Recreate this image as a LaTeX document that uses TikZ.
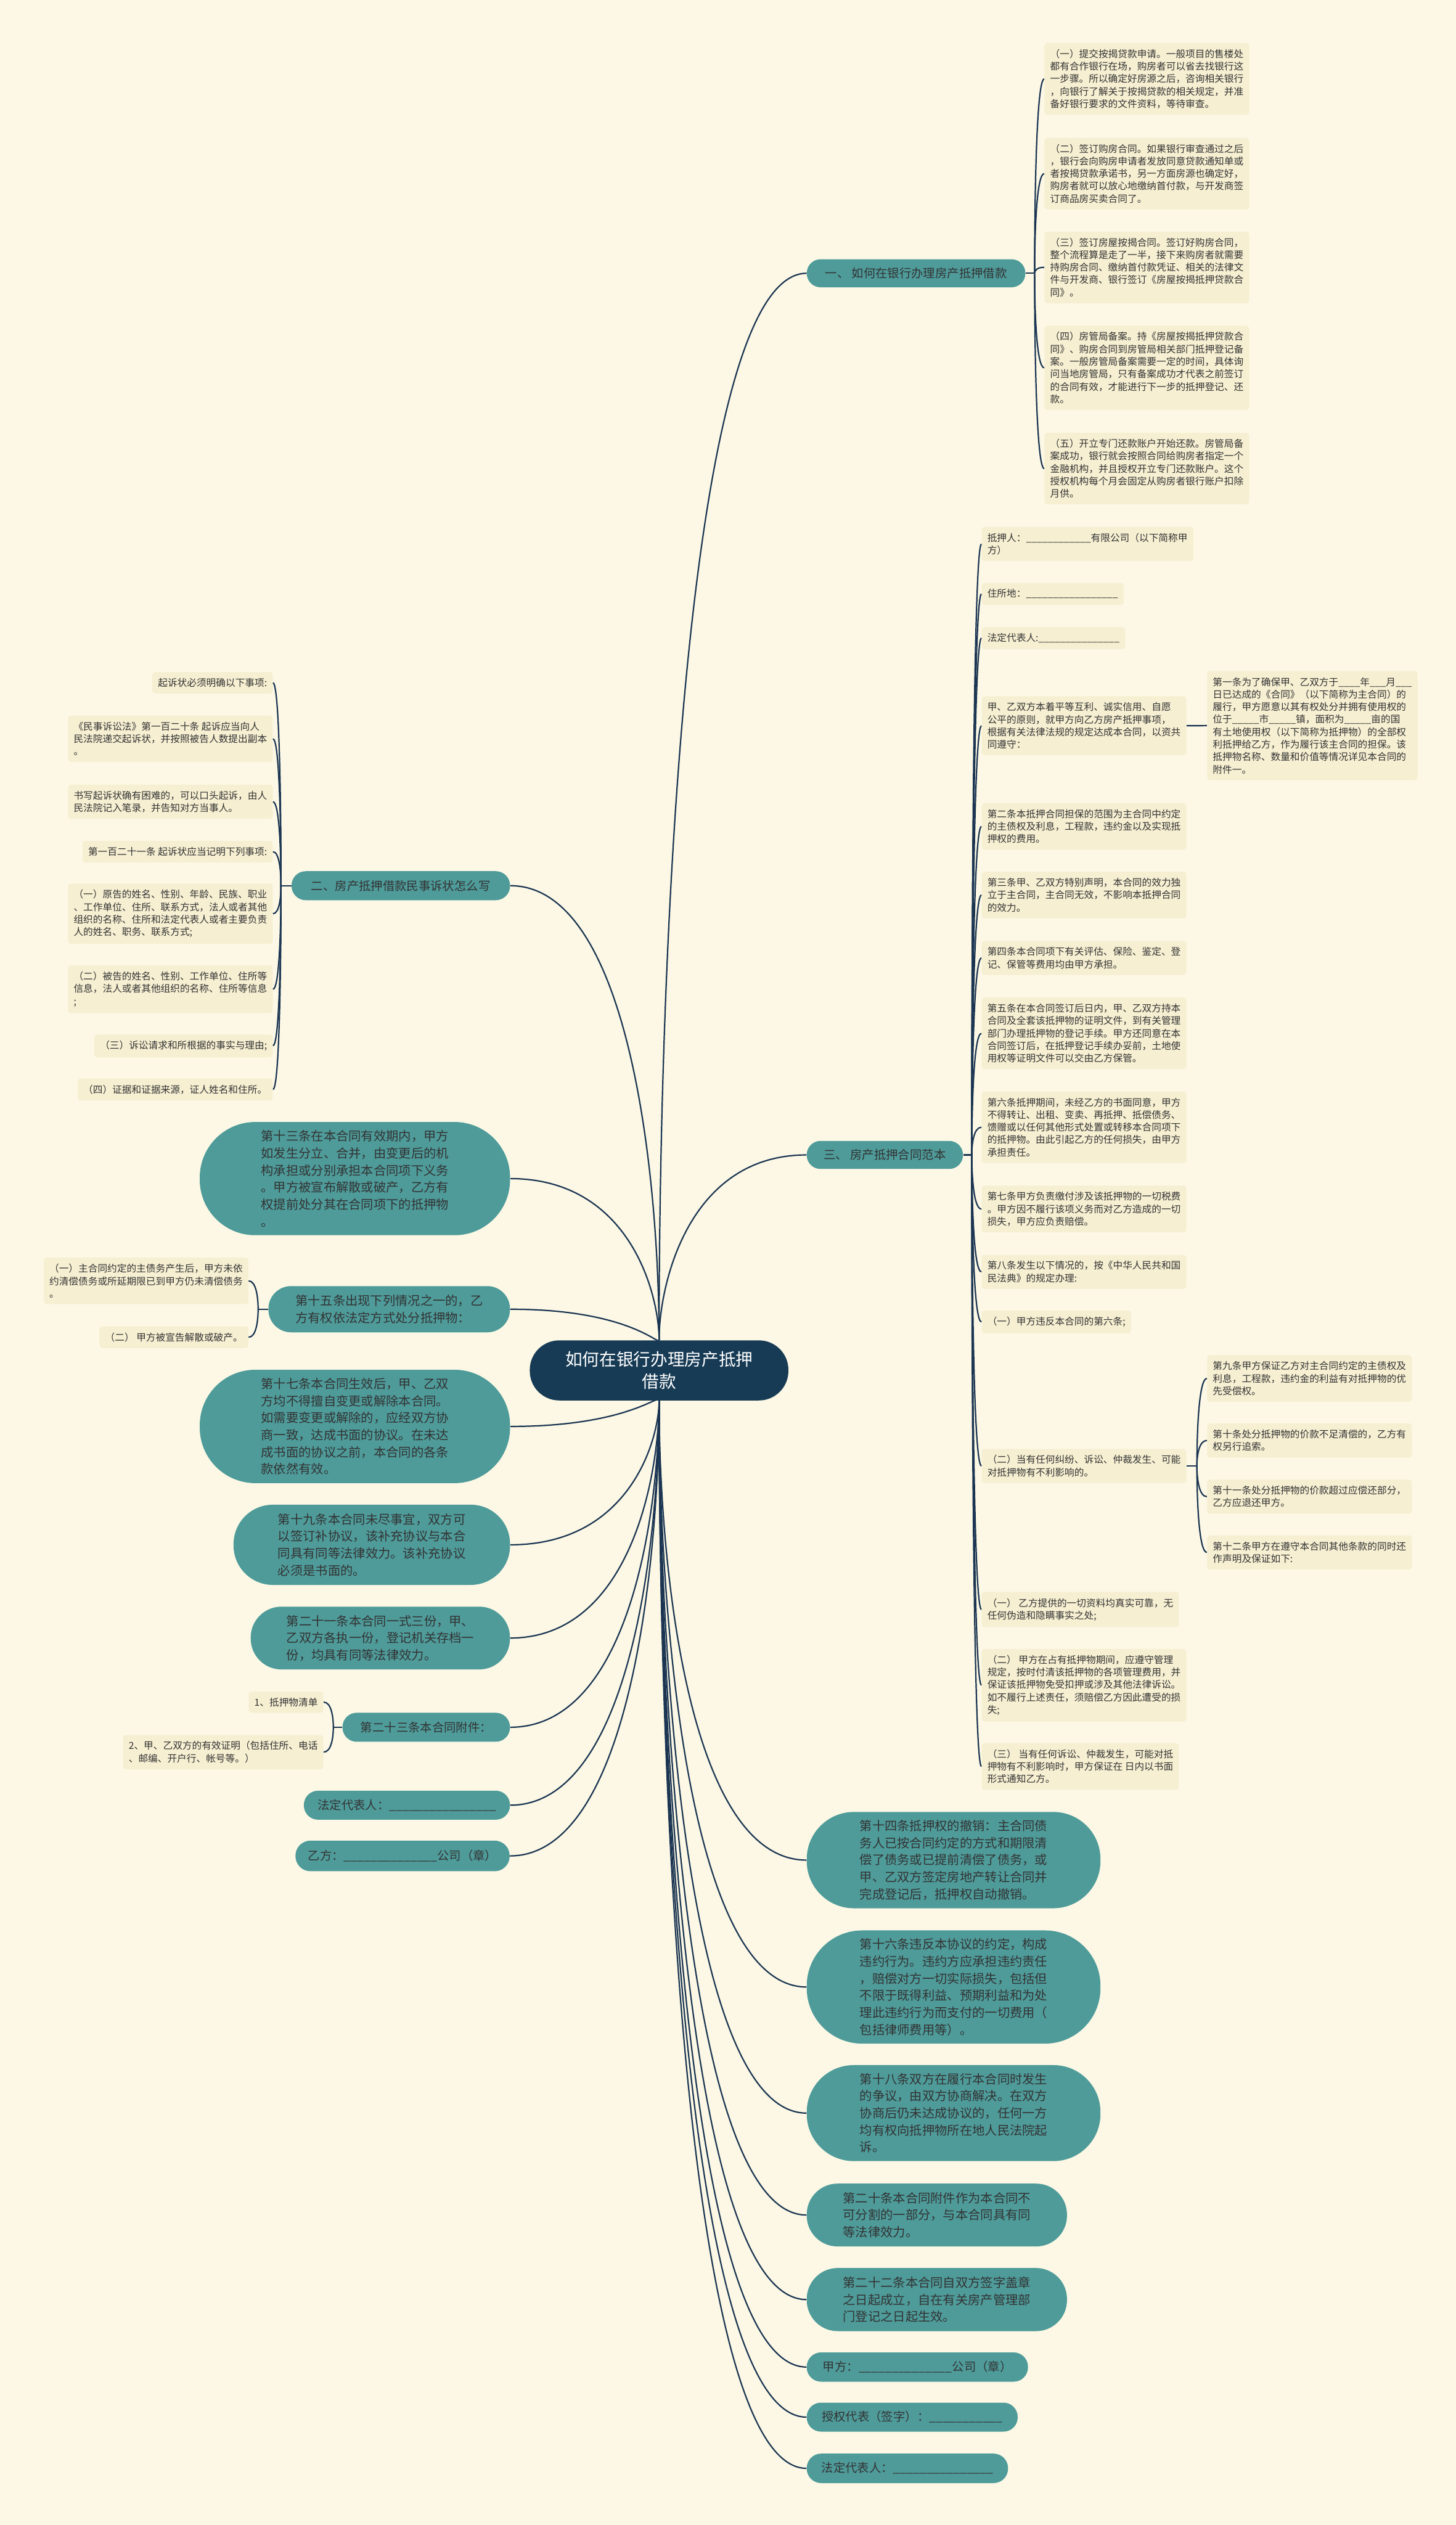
\documentclass[tikz,border=0pt]{standalone}
\usepackage{fontspec}
\setmainfont{Noto Sans CJK SC}
\usetikzlibrary{calc}
\definecolor{bgc}{HTML}{FCF8E5}
\definecolor{leafc}{HTML}{F6EFD2}
\definecolor{tealc}{HTML}{4E9B9A}
\definecolor{navyc}{HTML}{173B55}
\definecolor{wirec}{HTML}{1B3552}
\definecolor{inkc}{HTML}{333333}
\newdimen\pxu
\pxu=1.416pt
\pgfdeclarelayer{paper}
\pgfdeclarelayer{back}
\pgfsetlayers{paper,back,main}
\newcommand\conn[2]{\draw[wire] (#1) .. controls ($(#1)!0.4!(#1|-#2)$) and ($(#2)!0.8!(#1|-#2)$) .. (#2);}
\tikzset{
  wire/.style={draw=wirec, line width=1.2pt},
  leaf/.style={fill=leafc, rounded corners=2.5pt, inner xsep=5pt, inner ysep=5.5pt, align=left, text=inkc, font=\fontsize{8.5pt}{11pt}\selectfont},
  lw/.style={leaf, anchor=west},
  le/.style={leaf, anchor=east},
  pill/.style n args={2}{minimum width=#1*\pxu, minimum height=#2*\pxu, rounded corners=#2*0.49*\pxu, inner sep=0pt},
  bub/.style={fill=tealc, align=left, text=inkc, font=\fontsize{11pt}{15pt}\selectfont},
  brn/.style={fill=tealc, align=left, text=inkc, font=\fontsize{10.5pt}{13pt}\selectfont},
}
\begin{document}
\begin{tikzpicture}[x=1.416pt, y=-1.416pt]
\useasboundingbox (0,0) rectangle (904,1568);
\begin{pgfonlayer}{paper}
\fill[bgc] (0,0) rectangle (904,1568);
\end{pgfonlayer}

% centre
\node[pill={160.6}{37.3}, fill=navyc, text=white, align=center, font=\fontsize{15pt}{20pt}\selectfont] (C) at (409.3,851) {如何在银行办理房产抵押\\借款};

% branches
\node[brn, pill={135.7}{17.4}] (b1) at (568.9,169.7) {一、 如何在银行办理房产抵押借款};
\node[brn, pill={135.7}{18}] (b2) at (248.9,550) {二、房产抵押借款民事诉状怎么写};
\node[brn, pill={97}{17.4}] (b3) at (549.5,717.2) {三、 房产抵押合同范本};

% branch 1 leaves
\node[lw] (a1) at (648.5,49) {（一）提交按揭贷款申请。一般项目的售楼处\\都有合作银行在场，购房者可以省去找银行这\\一步骤。所以确定好房源之后，咨询相关银行\\，向银行了解关于按揭贷款的相关规定，并准\\备好银行要求的文件资料，等待审查。};
\node[lw] (a2) at (648.5,107.8) {（二）签订购房合同。如果银行审查通过之后\\，银行会向购房申请者发放同意贷款通知单或\\者按揭贷款承诺书，另一方面房源也确定好，\\购房者就可以放心地缴纳首付款，与开发商签\\订商品房买卖合同了。};
\node[lw] (a3) at (648.5,166) {（三）签订房屋按揭合同。签订好购房合同，\\整个流程算是走了一半，接下来购房者就需要\\持购房合同、缴纳首付款凭证、相关的法律文\\件与开发商、银行签订《房屋按揭抵押贷款合\\同》。};
\node[lw] (a4) at (648.5,228.4) {（四）房管局备案。持《房屋按揭抵押贷款合\\同》、购房合同到房管局相关部门抵押登记备\\案。一般房管局备案需要一定的时间，具体询\\问当地房管局，只有备案成功才代表之前签订\\的合同有效，才能进行下一步的抵押登记、还\\款。};
\node[lw] (a5) at (648.5,291) {（五）开立专门还款账户开始还款。房管局备\\案成功，银行就会按照合同给购房者指定一个\\金融机构，并且授权开立专门还款账户。这个\\授权机构每个月会固定从购房者银行账户扣除\\月供。};

% branch 3 leaves
\node[lw] (c1) at (609.5,337.8) {抵押人：\_\_\_\_\_\_\_\_\_\_\_\_有限公司（以下简称甲\\方）};
\node[lw] (c2) at (609.5,368.8) {住所地：\_\_\_\_\_\_\_\_\_\_\_\_\_\_\_\_\_};
\node[lw] (c3) at (609.5,396.2) {法定代表人:\_\_\_\_\_\_\_\_\_\_\_\_\_\_\_};
\node[lw] (c4) at (609.5,450.7) {甲、乙双方本着平等互利、诚实信用、自愿\\公平的原则，就甲方向乙方房产抵押事项，\\根据有关法律法规的规定达成本合同，以资共\\同遵守：};
\node[lw] (c5) at (609.5,513.2) {第二条本抵押合同担保的范围为主合同中约定\\的主债权及利息，工程款，违约金以及实现抵\\押权的费用。};
\node[lw] (c6) at (609.5,555.8) {第三条甲、乙双方特别声明，本合同的效力独\\立于主合同，主合同无效，不影响本抵押合同\\的效力。};
\node[lw] (c7) at (609.5,594.9) {第四条本合同项下有关评估、保险、鉴定、登\\记、保管等费用均由甲方承担。};
\node[lw] (c8) at (609.5,641.7) {第五条在本合同签订后日内，甲、乙双方持本\\合同及全套该抵押物的证明文件，到有关管理\\部门办理抵押物的登记手续。甲方还同意在本\\合同签订后，在抵押登记手续办妥前，土地使\\用权等证明文件可以交由乙方保管。};
\node[lw] (c9) at (609.5,700) {第六条抵押期间，未经乙方的书面同意，甲方\\不得转让、出租、变卖、再抵押、抵偿债务、\\馈赠或以任何其他形式处置或转移本合同项下\\的抵押物。由此引起乙方的任何损失，由甲方\\承担责任。};
\node[lw] (c10) at (609.5,750.8) {第七条甲方负责缴付涉及该抵押物的一切税费\\。甲方因不履行该项义务而对乙方造成的一切\\损失，甲方应负责赔偿。};
\node[lw] (c11) at (609.5,789.8) {第八条发生以下情况的，按《中华人民共和国\\民法典》的规定办理:};
\node[lw] (c12) at (609.5,820.9) {（一）甲方违反本合同的第六条;};
\node[lw] (c13) at (609.5,910.3) {（二）当有任何纠纷、诉讼、仲裁发生、可能\\对抵押物有不利影响的。};
\node[lw] (c14) at (609.5,999.5) {（一） 乙方提供的一切资料均真实可靠，无\\任何伪造和隐瞒事实之处;};
\node[lw] (c15) at (609.5,1046.5) {（二） 甲方在占有抵押物期间，应遵守管理\\规定，按时付清该抵押物的各项管理费用，并\\保证该抵押物免受扣押或涉及其他法律诉讼。\\如不履行上述责任，须赔偿乙方因此遭受的损\\失;};
\node[lw] (c16) at (609.5,1097) {（三） 当有任何诉讼、仲裁发生，可能对抵\\押物有不利影响时，甲方保证在 日内以书面\\形式通知乙方。};

\node[lw] (c4r) at (749.5,450.6) {第一条为了确保甲、乙双方于\_\_\_\_年\_\_\_月\_\_\_\\日已达成的《合同》（以下简称为主合同）的\\履行，甲方愿意以其有权处分并拥有使用权的\\位于\_\_\_\_\_市\_\_\_\_\_镇，面积为\_\_\_\_\_亩的国\\有土地使用权（以下简称为抵押物）的全部权\\利抵押给乙方，作为履行该主合同的担保。该\\抵押物名称、数量和价值等情况详见本合同的\\附件一。};

\node[lw] (d1) at (749.5,856) {第九条甲方保证乙方对主合同约定的主债权及\\利息，工程款，违约金的利益有对抵押物的优\\先受偿权。};
\node[lw] (d2) at (749.5,894.5) {第十条处分抵押物的价款不足清偿的，乙方有\\权另行追索。};
\node[lw] (d3) at (749.5,929.4) {第十一条处分抵押物的价款超过应偿还部分，\\乙方应退还甲方。};
\node[lw] (d4) at (749.5,964) {第十二条甲方在遵守本合同其他条款的同时还\\作声明及保证如下:};

% branch 2 leaves
\node[le] (e1) at (169.5,424) {起诉状必须明确以下事项:};
\node[le] (e2) at (169.5,458.8) {《民事诉讼法》第一百二十条 起诉应当向人\\民法院递交起诉状，并按照被告人数提出副本\\。};
\node[le] (e3) at (169.5,497.9) {书写起诉状确有困难的，可以口头起诉，由人\\民法院记入笔录，并告知对方当事人。};
\node[le] (e4) at (169.5,528.9) {第一百二十一条 起诉状应当记明下列事项:};
\node[le] (e5) at (169.5,567.4) {（一）原告的姓名、性别、年龄、民族、职业\\、工作单位、住所、联系方式，法人或者其他\\组织的名称、住所和法定代表人或者主要负责\\人的姓名、职务、联系方式;};
\node[le] (e6) at (169.5,614.3) {（二）被告的姓名、性别、工作单位、住所等\\信息，法人或者其他组织的名称、住所等信息\\;};
\node[le] (e7) at (169.5,649.4) {（三）诉讼请求和所根据的事实与理由;};
\node[le] (e8) at (169.5,676.5) {（四）证据和证据来源，证人姓名和住所。};

% left bubbles
\node[bub, pill={192.7}{70.3}] (f1) at (220.4,731.9) {第十三条在本合同有效期内，甲方\\如发生分立、合并，由变更后的机\\构承担或分别承担本合同项下义务\\。甲方被宣布解散或破产，乙方有\\权提前处分其在合同项下的抵押物\\。};
\node[bub, pill={150}{28.7}] (f2) at (241.7,813) {第十五条出现下列情况之一的，乙\\方有权依法定方式处分抵押物：};
\node[bub, pill={192.7}{70.4}] (f3) at (220.4,885.8) {第十七条本合同生效后，甲、乙双\\方均不得擅自变更或解除本合同。\\如需要变更或解除的，应经双方协\\商一致，达成书面的协议。在未达\\成书面的协议之前，本合同的各条\\款依然有效。};
\node[bub, pill={171.7}{49.8}] (f4) at (230.9,959.3) {第十九条本合同未尽事宜，双方可\\以签订补协议，该补充协议与本合\\同具有同等法律效力。该补充协议\\必须是书面的。};
\node[bub, pill={161}{39}] (f5) at (236.2,1017.2) {第二十一条本合同一式三份，甲、\\乙双方各执一份，登记机关存档一\\份，均具有同等法律效力。};
\node[brn, pill={104}{18}] (f6) at (264.7,1072.6) {第二十三条本合同附件：};
\node[brn, pill={128}{18}] (f7) at (252.7,1121) {法定代表人：\_\_\_\_\_\_\_\_\_\_\_\_\_\_\_\_};
\node[brn, pill={133}{19}] (f8) at (250,1152.5) {乙方：\_\_\_\_\_\_\_\_\_\_\_\_\_\_公司（章）};

\node[le] (g1) at (154.4,795.4) {（一）主合同约定的主债务产生后，甲方未依\\约清偿债务或所延期限已到甲方仍未清偿债务\\。};
\node[le] (g2) at (154.4,830.4) {（二） 甲方被宣告解散或破产。};
\node[le] (h1) at (201,1057) {1、抵押物清单};
\node[le] (h2) at (201,1088) {2、甲、乙双方的有效证明（包括住所、电话\\、邮编、开户行、帐号等。）};

% right bubbles
\node[bub, pill={182.4}{59.8}] (r1) at (592.2,1155.1) {第十四条抵押权的撤销：主合同债\\务人已按合同约定的方式和期限清\\偿了债务或已提前清偿了债务，或\\甲、乙双方签定房地产转让合同并\\完成登记后，抵押权自动撤销。};
\node[bub, pill={182.4}{70.3}] (r2) at (592.2,1233.9) {第十六条违反本协议的约定，构成\\违约行为。违约方应承担违约责任\\，赔偿对方一切实际损失，包括但\\不限于既得利益、预期利益和为处\\理此违约行为而支付的一切费用（\\包括律师费用等）。};
\node[bub, pill={182.4}{59.6}] (r3) at (592.2,1312.2) {第十八条双方在履行本合同时发生\\的争议，由双方协商解决。在双方\\协商后仍未达成协议的，任何一方\\均有权向抵押物所在地人民法院起\\诉。};
\node[bub, pill={161.6}{39}] (r4) at (581.8,1375.5) {第二十条本合同附件作为本合同不\\可分割的一部分，与本合同具有同\\等法律效力。};
\node[bub, pill={161.6}{39.2}] (r5) at (581.8,1428) {第二十二条本合同自双方签字盖章\\之日起成立，自在有关房产管理部\\门登记之日起生效。};
\node[brn, pill={137.4}{18.2}] (r6) at (569.7,1469.9) {甲方：\_\_\_\_\_\_\_\_\_\_\_\_\_\_公司（章）};
\node[brn, pill={131}{18}] (r7) at (566.5,1501) {授权代表（签字）：\_\_\_\_\_\_\_\_\_\_\_};
\node[brn, pill={125}{18.3}] (r8) at (563.5,1532.8) {法定代表人：\_\_\_\_\_\_\_\_\_\_\_\_\_\_\_};

% junctions
\coordinate (j1) at (642.5,169.7);
\coordinate (j2) at (174.5,550);
\coordinate (j3) at (603.5,717.2);
\coordinate (j13) at (743.3,910.3);
\coordinate (jf2) at (160.3,813);
\coordinate (jf6) at (207,1072.6);

\begin{pgfonlayer}{back}
\conn{C}{b1.west}
\conn{C}{b2.east}
\conn{C}{b3.west}
\foreach \n in {f1,f2,f3,f4,f5,f6,f7,f8} {\conn{C}{\n.east}}
\foreach \n in {r1,r2,r3,r4,r5,r6,r7,r8} {\conn{C}{\n.west}}
\draw[wire] (b1.east) -- (j1);
\foreach \n in {a1,a2,a3,a4,a5} {\conn{j1}{\n.west}}
\draw[wire] (b3.east) -- (j3);
\foreach \n in {c1,c2,c3,c4,c5,c6,c7,c8,c9,c10,c11,c12,c13,c14,c15,c16} {\conn{j3}{\n.west}}
\draw[wire] (c4.east) -- (c4r.west);
\draw[wire] (c13.east) -- (j13);
\foreach \n in {d1,d2,d3,d4} {\conn{j13}{\n.west}}
\draw[wire] (b2.west) -- (j2);
\foreach \n in {e1,e2,e3,e4,e5,e6,e7,e8} {\conn{j2}{\n.east}}
\draw[wire] (f2.west) -- (jf2);
\foreach \n in {g1,g2} {\conn{jf2}{\n.east}}
\draw[wire] (f6.west) -- (jf6);
\foreach \n in {h1,h2} {\conn{jf6}{\n.east}}
\end{pgfonlayer}
\end{tikzpicture}
\end{document}
